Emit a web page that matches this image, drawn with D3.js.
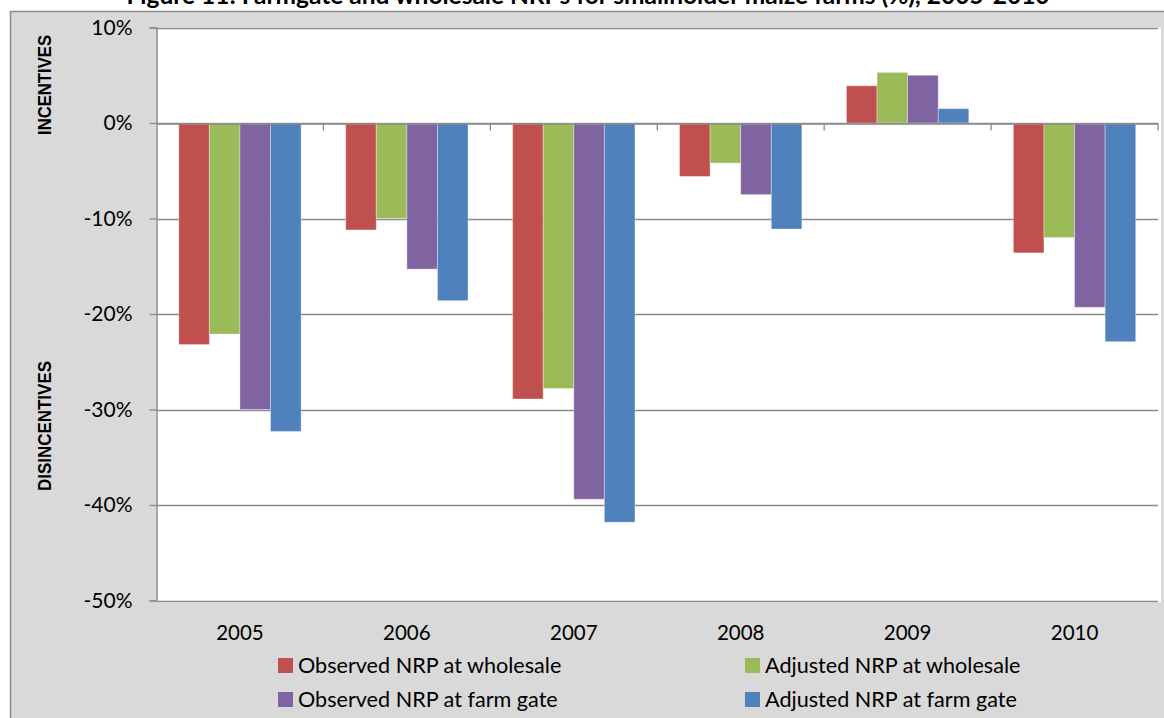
<!DOCTYPE html>
<html>
<head>
<meta charset="utf-8">
<script src="https://cdn.jsdelivr.net/npm/d3@7"></script>
<style>
  body { margin: 0; background: #fff; }
  svg { display: block; }
</style>
</head>
<body>
<div id="chart"></div>
<script>
// data
var years = ["2005", "2006", "2007", "2008", "2009", "2010"];
var seriesNames = ["Observed NRP at wholesale", "Adjusted NRP at wholesale",
                   "Observed NRP at farm gate", "Adjusted NRP at farm gate"];
var seriesColors = ["#C0504D", "#9BBB59", "#8064A2", "#4F81BD"];
var obsWholesale = [-23.2, -11.2, -28.9, -5.6, 3.9, -13.6];
var adjWholesale = [-22.1, -10.0, -27.8, -4.2, 5.3, -12.0];
var obsFarmgate = [-30.0, -15.3, -39.4, -7.5, 5.0, -19.3];
var adjFarmgate = [-32.3, -18.6, -41.8, -11.1, 1.5, -22.9];
var yTicks = [10, 0, -10, -20, -30, -40, -50];

var seriesValues = [obsWholesale, adjWholesale, obsFarmgate, adjFarmgate];

var W = 1164, H = 718;
var plot = {left: 156.5, right: 1158, top: 27.5, bottom: 600.5};

var svg = d3.select("#chart").append("svg")
    .attr("width", W)
    .attr("height", H);

// outer chart area
svg.append("rect")
    .attr("x", 10.5).attr("y", 11.5)
    .attr("width", W).attr("height", H)
    .attr("fill", "#d9d9d9")
    .attr("stroke", "#8c8c8c")
    .attr("stroke-width", 1.5);

// title (the reference crops it at the top edge)
svg.append("text")
    .attr("x", 588).attr("y", 3.5)
    .attr("text-anchor", "middle")
    .attr("font-family", "Lato, 'Open Sans', sans-serif")
    .attr("font-weight", "bold")
    .attr("font-size", 24.5)
    .attr("fill", "#000")
    .text("Figure 11: Farmgate and wholesale NRPs for smallholder maize farms (%), 2005-2010");

// plot area
svg.append("rect")
    .attr("x", plot.left).attr("y", plot.top)
    .attr("width", plot.right - plot.left + 3).attr("height", plot.bottom - plot.top + 2)
    .attr("fill", "#fff");

var x = d3.scaleBand()
    .domain(years)
    .range([plot.left, plot.right])
    .paddingInner(0).paddingOuter(0);

var inner = 22.3 / 166.9;
var xs = d3.scaleBand()
    .domain(seriesNames)
    .range([x.bandwidth() * inner, x.bandwidth() * (1 - inner)])
    .padding(0);

var y = d3.scaleLinear()
    .domain([-50, 10])
    .range([plot.bottom, plot.top]);

// gridlines
svg.append("g")
    .selectAll("line")
    .data(yTicks)
    .join("line")
        .attr("x1", plot.left).attr("x2", plot.right)
        .attr("y1", d => Math.round(y(d)) + 0.5).attr("y2", d => Math.round(y(d)) + 0.5)
        .attr("stroke", "#8a8a8a")
        .attr("stroke-width", 1.3);

// bars
var groups = svg.append("g")
    .selectAll("g")
    .data(years)
    .join("g")
        .attr("transform", d => "translate(" + x(d) + ",0)");

groups.selectAll("rect")
    .data((yr, i) => seriesNames.map((s, j) => ({s: s, v: seriesValues[j][i], c: seriesColors[j]})))
    .join("rect")
        .attr("x", d => xs(d.s))
        .attr("width", xs.bandwidth())
        .attr("y", d => y(Math.max(0, d.v)))
        .attr("height", d => Math.abs(y(d.v) - y(0)))
        .attr("fill", d => d.c)
        .attr("stroke", "rgba(255,255,255,0.35)")
        .attr("stroke-width", 1);

// y axis
var yAxis = svg.append("g")
    .attr("transform", "translate(" + plot.left + ",0)")
    .call(d3.axisLeft(y).tickValues(yTicks).tickSize(7).tickPadding(17).tickFormat(d => d + "%"));
yAxis.select(".domain").attr("stroke", "#8a8a8a").attr("stroke-width", 1.5);
yAxis.selectAll(".tick line").attr("stroke", "#8a8a8a").attr("stroke-width", 1.3);
yAxis.selectAll("text")
    .attr("font-family", "Lato, sans-serif")
    .attr("font-size", 21)
    .attr("fill", "#000");

// zero line with category ticks
var xAxis = svg.append("g")
    .attr("transform", "translate(0," + (Math.round(y(0)) + 0.5) + ")")
    .call(d3.axisBottom(x).tickSize(0).tickFormat(""));
xAxis.select(".domain").attr("stroke", "#8a8a8a").attr("stroke-width", 1.5);
xAxis.selectAll(".tick").remove();
xAxis.selectAll("line.cat")
    .data(years.slice(1).concat(["end"]))
    .join("line")
        .attr("class", "cat")
        .attr("x1", d => d === "end" ? plot.right : x(d))
        .attr("x2", d => d === "end" ? plot.right : x(d))
        .attr("y1", 0).attr("y2", 7)
        .attr("stroke", "#8a8a8a")
        .attr("stroke-width", 1.3);

// year labels under the plot
svg.append("g")
    .selectAll("text")
    .data(years)
    .join("text")
        .attr("x", d => x(d) + x.bandwidth() / 2)
        .attr("y", 640)
        .attr("text-anchor", "middle")
        .attr("font-family", "Lato, sans-serif")
        .attr("font-size", 20.5)
        .text(d => d);

// side labels
var side = [{t: "INCENTIVES", cy: 85, len: 100}, {t: "DISINCENTIVES", cy: 426, len: 130}];
svg.append("g")
    .selectAll("text")
    .data(side)
    .join("text")
        .attr("transform", d => "translate(51," + d.cy + ") rotate(-90)")
        .attr("text-anchor", "middle")
        .attr("font-family", "'Liberation Sans Narrow', 'Liberation Sans', sans-serif")
        .attr("font-weight", "bold")
        .attr("font-size", 19)
        .attr("textLength", d => d.len)
        .attr("lengthAdjust", "spacingAndGlyphs")
        .text(d => d.t);

// legend
var legendPos = [[278, 658], [745, 658], [278, 692], [745, 692]];
var legend = svg.append("g")
    .selectAll("g")
    .data(seriesNames)
    .join("g")
        .attr("transform", (d, i) => "translate(" + legendPos[i][0] + "," + legendPos[i][1] + ")");
legend.append("rect")
    .attr("width", 15).attr("height", 15)
    .attr("fill", (d, i) => seriesColors[i]);
legend.append("text")
    .attr("x", 20).attr("y", 14.5)
    .attr("font-family", "Lato, sans-serif")
    .attr("font-size", 21.6)
    .text(d => d);
</script>
</body>
</html>
